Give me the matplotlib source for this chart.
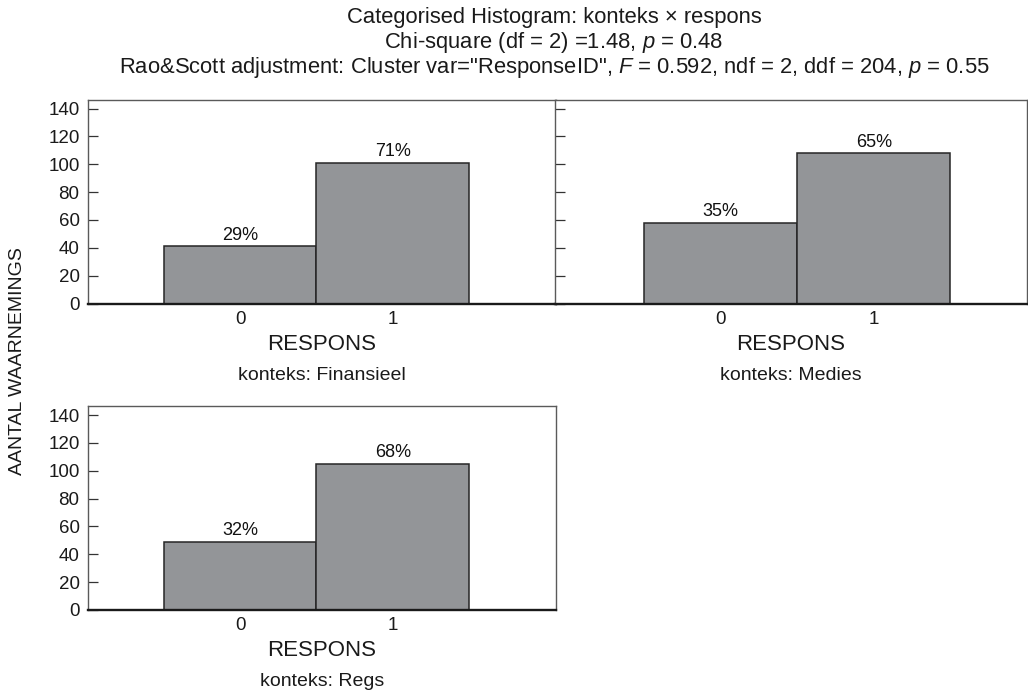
import matplotlib
matplotlib.use("Agg")
import matplotlib.pyplot as plt

plt.rcParams["font.family"] = ["Liberation Sans", "DejaVu Sans"]
plt.rcParams["mathtext.fontset"] = "custom"
plt.rcParams["mathtext.it"] = "Liberation Sans:italic"
plt.rcParams["mathtext.rm"] = "Liberation Sans"

# Data
categories = ["0", "1"]
contexts = ["Finansieel", "Medies", "Regs"]
counts_finansieel = [41, 101]
counts_medies = [58, 108]
counts_regs = [49, 105]
percent_finansieel = ["29%", "71%"]
percent_medies = ["35%", "65%"]
percent_regs = ["32%", "68%"]
y_ticks = [0, 20, 40, 60, 80, 100, 120, 140]

panels = [
    (contexts[0], counts_finansieel, percent_finansieel),
    (contexts[1], counts_medies, percent_medies),
    (contexts[2], counts_regs, percent_regs),
]

W, H = 1028, 692
PX = 72 / 100  # points per pixel at dpi 100
fig = plt.figure(figsize=(W / 100, H / 100), dpi=100)


def px_rect(left, top, right, bottom):
    return [left / W, (H - bottom) / H, (right - left) / W, (bottom - top) / H]


rects = [
    px_rect(87.5, 99.5, 556, 303.5),
    px_rect(555, 99.5, 1027, 303.5),
    px_rect(87.5, 406, 556, 610),
]
xlims = [(-1.0, 2.07), (-1.08, 2.0), (-1.0, 2.07)]

bar_color = "#939598"
edge_color = "#262626"
frame_color = "#5a5a5a"
text_color = "#1a1a1a"

for i, ((ctx, counts, pcts), rect, xl) in enumerate(zip(panels, rects, xlims)):
    ax = fig.add_axes(rect)
    x = list(range(len(categories)))
    bars = ax.bar(x, counts, width=1.0, color=bar_color, edgecolor=edge_color,
                  linewidth=1.1, zorder=2)
    for b, lab in zip(bars, pcts):
        ax.annotate(lab, (b.get_x() + b.get_width() / 2, b.get_height()),
                    xytext=(0, 11 * PX), textcoords="offset points",
                    ha="center", va="center", fontsize=13, color="#111111")
    ax.set_xlim(*xl)
    ax.set_ylim(0, 146.5)
    ax.set_yticks(y_ticks)
    ax.set_xticks(x)
    ax.set_xticklabels(categories, fontsize=13.5)
    if i == 1:
        ax.set_yticklabels([])
    else:
        ax.set_yticklabels([str(v) for v in y_ticks], fontsize=13.5)
    ax.tick_params(axis="y", direction="in", length=10 * PX, width=0.9,
                   color="#333333", pad=8 * PX, labelcolor=text_color)
    ax.tick_params(axis="x", direction="in", length=3 * PX, width=1.0,
                   color="#222222", pad=7 * PX, labelcolor=text_color)
    for side in ["left", "top", "right"]:
        ax.spines[side].set_color(frame_color)
        ax.spines[side].set_linewidth(1.0)
    ax.spines["bottom"].set_color("#1a1a1a")
    ax.spines["bottom"].set_linewidth(1.7)
    ax.spines["bottom"].set_zorder(3)
    ax.annotate("RESPONS", (0.5, 0), xycoords="axes fraction",
                xytext=(0, -41 * PX), textcoords="offset points",
                ha="center", va="center", fontsize=16, color=text_color)
    ax.annotate(f"konteks: {ctx}", (0.5, 0), xycoords="axes fraction",
                xytext=(0, -72 * PX), textcoords="offset points",
                ha="center", va="center", fontsize=14, color=text_color)

fig.text(18 / W, 1 - 361 / H, "AANTAL WAARNEMINGS", rotation=90,
         ha="center", va="center", fontsize=14, color=text_color)

title_x = 554 / W
title_lines = [
    "Categorised Histogram: konteks \u00d7 respons",
    "Chi-square (df = 2) =1.48, $p$ = 0.48",
    'Rao&Scott adjustment: Cluster var="ResponseID", $F$ = 0.592, ndf = 2, ddf = 204, $p$ = 0.55',
]
for line, base_px in zip(title_lines, [23, 48, 73]):
    fig.text(title_x, 1 - base_px / H, line, ha="center", va="baseline",
             fontsize=15.8, color=text_color)

fig.savefig("out.png", dpi=100, facecolor="white")
